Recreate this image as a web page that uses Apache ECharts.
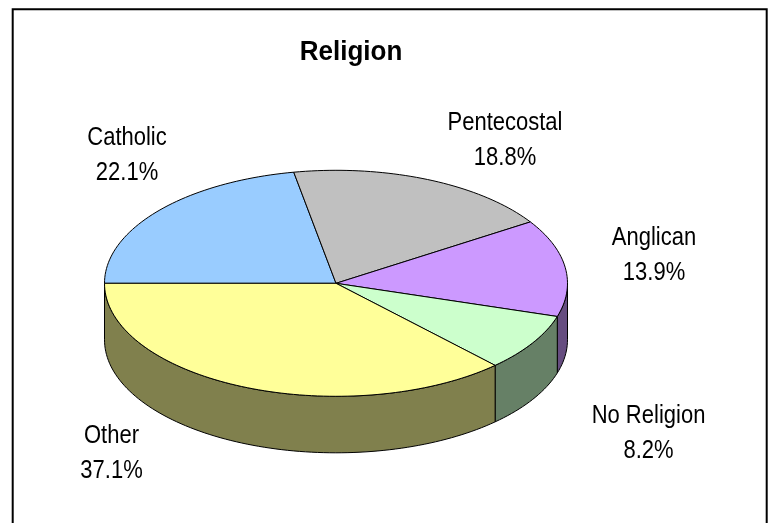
<!DOCTYPE html>
<html><head><meta charset="utf-8">
<script src="https://cdn.jsdelivr.net/npm/echarts@6/dist/echarts.min.js"></script>
<style>html,body{margin:0;padding:0;background:#fff}#c{width:773px;height:523px}</style>
</head><body><div id="c"></div>
<script>
// ---- data ----
const categories = ['Catholic', 'Pentecostal', 'Anglican', 'No Religion', 'Other'];
const values = [22.1, 18.8, 13.9, 8.2, 37.1];
const titleText = 'Religion';

// ---- style / layout ----
const topColors = ['#99CCFF', '#C0C0C0', '#CC99FF', '#CCFFCC', '#FFFF99'];
const sideColors = ['#4D6680', '#606060', '#664D80', '#668066', '#80804D'];
const CX = 336, CY = 283.3, RX = 231.5, RY = 113, DEPTH = 56.5, START = 180;
const labelCenters = [[127, 155.4], [505, 140.4], [654, 255.4], [648.5, 433.7], [111.5, 453.7]];
const LABEL_SCALE_Y = 1.16;

const total = values.reduce((a, b) => a + b, 0);
function cumBefore(i) { let s = 0; for (let k = 0; k < i; k++) s += values[k]; return s; }
function pt(deg, dz) {
  const r = deg * Math.PI / 180;
  return [CX + RX * Math.cos(r), CY - RY * Math.sin(r) + (dz || 0)];
}
function arc(a, b, dz) { // from angle a to b (degrees)
  const n = Math.max(2, Math.ceil(Math.abs(b - a) / 1.5));
  const out = [];
  for (let k = 0; k <= n; k++) out.push(pt(a + (b - a) * k / n, dz));
  return out;
}

function renderItem(params, api) {
  const i = params.dataIndex;
  const v = api.value(1);
  const a1 = START - cumBefore(i) / total * 360;
  const a2 = a1 - v / total * 360;
  const children = [];
  // visible front wall: angles where sin <= 0
  const ranges = [[-180, 0], [180, 360], [-540, -360]];
  const lo = Math.min(a1, a2), hi = Math.max(a1, a2);
  ranges.forEach(([r0, r1]) => {
    const s = Math.max(lo, r0), e = Math.min(hi, r1);
    if (e - s > 0.01) {
      const topArc = arc(e, s, 0);
      const botArc = arc(s, e, DEPTH);
      children.push({
        type: 'polygon', z2: 1,
        shape: { points: topArc.concat(botArc) },
        style: { fill: sideColors[i], stroke: '#000', lineWidth: 1 }
      });
    }
  });
  // top face
  const pts = [[CX, CY]].concat(arc(a1, a2, 0));
  children.push({
    type: 'polygon', z2: 2,
    shape: { points: pts },
    style: { fill: topColors[i], stroke: '#000', lineWidth: 1 }
  });
  // label
  const lc = labelCenters[i];
  children.push({
    type: 'text', z2: 3,
    x: lc[0], y: lc[1], scaleY: LABEL_SCALE_Y,
    style: {
      x: 0, y: 0,
      text: categories[i] + '\n' + v.toFixed(1) + '%',
      font: '22px "Liberation Sans", Arial, sans-serif',
      fill: '#000', align: 'center', verticalAlign: 'middle', lineHeight: 30.2
    }
  });
  return { type: 'group', children: children };
}

const chart = echarts.init(document.getElementById('c'), null, { renderer: 'canvas' });
chart.setOption({
  animation: false,
  backgroundColor: '#fff',
  graphic: [
    {
      type: 'rect', z: -1,
      shape: { x: 12.7, y: 9.3, width: 754, height: 540 },
      style: { fill: '#fff', stroke: '#000', lineWidth: 2 }
    },
    {
      type: 'text', x: 351, y: 52, scaleY: 1.08, z: 10,
      style: {
        x: 0, y: 0, text: titleText,
        font: 'bold 26px "Liberation Sans", Arial, sans-serif',
        fill: '#000', align: 'center', verticalAlign: 'middle'
      }
    }
  ],
  series: [{
    type: 'custom',
    coordinateSystem: 'none',
    renderItem: renderItem,
    data: values.map((v, i) => ({ name: categories[i], value: [i, v] }))
  }]
});
</script>
</body></html>
